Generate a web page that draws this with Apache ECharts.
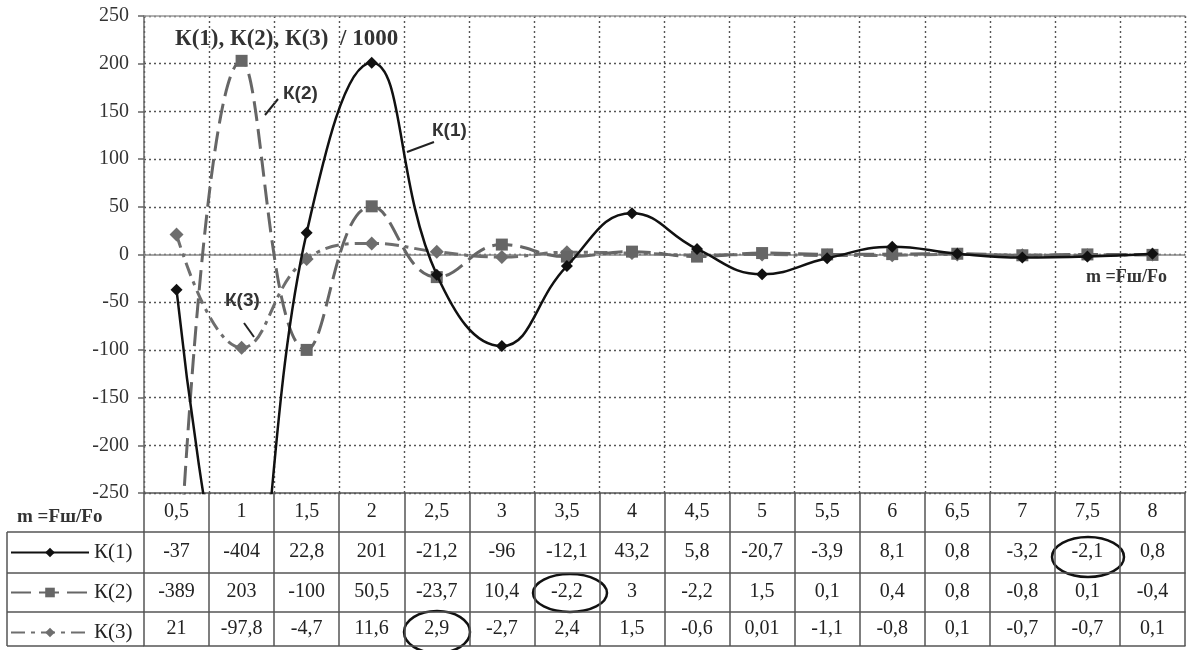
<!DOCTYPE html>
<html>
<head>
<meta charset="utf-8">
<script src="https://cdn.jsdelivr.net/npm/echarts@6/dist/echarts.min.js"></script>
<style>
  html, body { margin: 0; padding: 0; background: #fff; }
  #main { width: 1187px; height: 650px; }
</style>
</head>
<body>
<div id="main"></div>
<script>
// m = Fш/Fo
var categories = [0.5, 1, 1.5, 2, 2.5, 3, 3.5, 4, 4.5, 5, 5.5, 6, 6.5, 7, 7.5, 8];
// К(1), К(2), К(3) / 1000
var k1 = [-37, -404, 22.8, 201, -21.2, -96, -12.1, 43.2, 5.8, -20.7, -3.9, 8.1, 0.8, -3.2, -2.1, 0.8];
var k2 = [-389, 203, -100, 50.5, -23.7, 10.4, -2.2, 3, -2.2, 1.5, 0.1, 0.4, 0.8, -0.8, 0.1, -0.4];
var k3 = [21, -97.8, -4.7, 11.6, 2.9, -2.7, 2.4, 1.5, -0.6, 0.01, -1.1, -0.8, 0.1, -0.7, -0.7, 0.1];
var yTicks = [-250, -200, -150, -100, -50, 0, 50, 100, 150, 200, 250];

var serif = '"Liberation Serif", "DejaVu Serif", serif';
var sans = '"Liberation Sans", Arial, sans-serif';
var gridColor = '#555';

function fmt(v) {
  return String(v).replace('.', ',');
}
var catLabels = categories.map(fmt);

// строка таблицы под графиком = отдельная ось X со смещением
function tableRow(offset, tickLen, margin, values, showLabel) {
  return {
    type: 'category',
    gridIndex: 0,
    position: 'bottom',
    offset: offset,
    data: catLabels,
    boundaryGap: true,
    axisLine: { show: true, onZero: false, lineStyle: { color: gridColor, width: 1.5 } },
    axisTick: { show: tickLen > 0, interval: 0, length: tickLen, lineStyle: { color: gridColor, width: 1.5 } },
    axisLabel: {
      show: showLabel,
      interval: 0,
      margin: margin,
      verticalAlign: 'middle',
      fontFamily: serif,
      fontSize: 20,
      color: '#222',
      formatter: function (val, idx) { return fmt(values[idx]); }
    },
    splitLine: { show: false }
  };
}

var chart = echarts.init(document.getElementById('main'));

var option = {
  animation: false,
  backgroundColor: '#fff',
  title: {
    text: 'К(1), К(2), К(3)  / 1000',
    left: 170,
    top: 23,
    textStyle: { fontFamily: serif, fontSize: 23, fontWeight: 'bold', color: '#333' }
  },
  legend: {
    orient: 'vertical',
    left: 10,
    top: 542,
    height: 106,
    padding: 0,
    itemWidth: 78,
    itemHeight: 12,
    itemGap: 19,
    selectedMode: false,
    textStyle: { fontFamily: serif, fontSize: 21, color: '#222' },
    data: ['К(1)', 'К(2)', 'К(3)']
  },
  grid: { left: 144, right: 2, top: 16, bottom: 157 },
  xAxis: [
    {
      type: 'category',
      data: catLabels,
      boundaryGap: true,
      axisLine: { show: true, onZero: true, lineStyle: { color: '#888', width: 1.5 } },
      axisTick: { show: false },
      axisLabel: { show: false },
      splitLine: { show: true, interval: 0, lineStyle: { color: gridColor, type: [2, 3], width: 1.4 } }
    },
    tableRow(0, 39, 19, categories, true),
    tableRow(39, 41, 20, k1, true),
    tableRow(80, 39, 19, k2, true),
    tableRow(119, 34, 17, k3, true),
    tableRow(153, 0, 0, k3, false),
    {
      type: 'category',
      position: 'top',
      data: catLabels,
      axisLine: { show: true, onZero: false, lineStyle: { color: '#999', width: 1.5 } },
      axisTick: { show: false },
      axisLabel: { show: false },
      splitLine: { show: false }
    }
  ],
  yAxis: {
    type: 'value',
    min: yTicks[0],
    max: yTicks[yTicks.length - 1],
    interval: 50,
    axisLine: { show: true, lineStyle: { color: '#666', width: 1.5 } },
    axisTick: { show: true, length: 6, lineStyle: { color: '#666', width: 1.5 } },
    axisLabel: { margin: 15, fontFamily: serif, fontSize: 20, color: '#333' },
    splitLine: { show: true, lineStyle: { color: gridColor, type: [2, 3], width: 1.4 } }
  },
  series: [
    {
      name: 'К(1)',
      type: 'line',
      xAxisIndex: 0,
      data: k1,
      smooth: 0.45,
      clip: true,
      symbol: 'diamond',
      symbolSize: 12,
      z: 5,
      itemStyle: { color: '#111' },
      lineStyle: { color: '#111', width: 2.5 }
    },
    {
      name: 'К(2)',
      type: 'line',
      xAxisIndex: 0,
      data: k2,
      smooth: 0.45,
      clip: true,
      symbol: 'rect',
      symbolSize: 12,
      z: 4,
      itemStyle: { color: '#666' },
      lineStyle: { color: '#666', width: 3, type: [20, 8] }
    },
    {
      name: 'К(3)',
      type: 'line',
      xAxisIndex: 0,
      data: k3,
      smooth: 0.45,
      clip: true,
      symbol: 'diamond',
      symbolSize: 14,
      z: 3,
      itemStyle: { color: '#6e6e6e' },
      lineStyle: { color: '#6e6e6e', width: 3, type: [14, 6, 4, 6] }
    }
  ],
  graphic: [
    // подписи кривых
    { type: 'text', left: 283, top: 84, style: { text: 'К(2)', fontFamily: sans, fontSize: 19, fontWeight: 'bold', fill: '#333' } },
    { type: 'line', shape: { x1: 265, y1: 115, x2: 278, y2: 99 }, style: { stroke: '#222', lineWidth: 2 } },
    { type: 'text', left: 432, top: 121, style: { text: 'К(1)', fontFamily: sans, fontSize: 19, fontWeight: 'bold', fill: '#333' } },
    { type: 'line', shape: { x1: 407, y1: 152, x2: 434, y2: 142 }, style: { stroke: '#222', lineWidth: 2 } },
    { type: 'text', left: 225, top: 291, style: { text: 'К(3)', fontFamily: sans, fontSize: 19, fontWeight: 'bold', fill: '#333' } },
    { type: 'line', shape: { x1: 244, y1: 323, x2: 254, y2: 337 }, style: { stroke: '#222', lineWidth: 2 } },
    { type: 'text', left: 1086, top: 268, style: { text: 'm =Fш/Fo', fontFamily: serif, fontSize: 18, fontWeight: 'bold', fill: '#333' } },
    { type: 'text', left: 17, top: 508, style: { text: 'm =Fш/Fo', fontFamily: serif, fontSize: 19, fontWeight: 'bold', fill: '#333' } },
    // левая колонка таблицы
    { type: 'line', shape: { x1: 7, y1: 532, x2: 7, y2: 646 }, style: { stroke: gridColor, lineWidth: 1.5 } },
    { type: 'line', shape: { x1: 7, y1: 532, x2: 144, y2: 532 }, style: { stroke: gridColor, lineWidth: 1.5 } },
    { type: 'line', shape: { x1: 7, y1: 573, x2: 144, y2: 573 }, style: { stroke: gridColor, lineWidth: 1.5 } },
    { type: 'line', shape: { x1: 7, y1: 612, x2: 144, y2: 612 }, style: { stroke: gridColor, lineWidth: 1.5 } },
    { type: 'line', shape: { x1: 7, y1: 646, x2: 144, y2: 646 }, style: { stroke: gridColor, lineWidth: 1.5 } },
    // выделенные значения
    { type: 'ellipse', shape: { cx: 1088, cy: 557, rx: 36, ry: 20 }, style: { fill: 'none', stroke: '#111', lineWidth: 2.5 } },
    { type: 'ellipse', shape: { cx: 570, cy: 593, rx: 37, ry: 19 }, style: { fill: 'none', stroke: '#111', lineWidth: 2.5 } },
    { type: 'ellipse', shape: { cx: 437, cy: 632, rx: 33, ry: 21 }, style: { fill: 'none', stroke: '#111', lineWidth: 2.5 } }
  ]
};

chart.setOption(option);
</script>
</body>
</html>
